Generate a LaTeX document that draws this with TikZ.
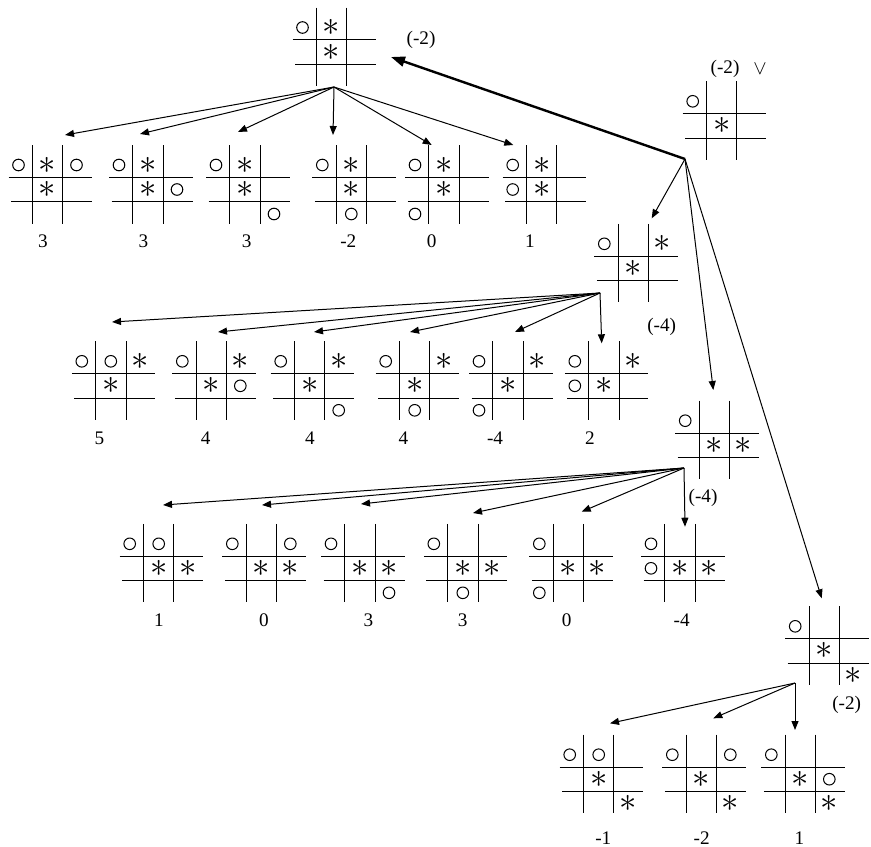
\documentclass[tikz,border=0pt]{standalone}
\usepackage{fontspec}
\setmainfont{Liberation Serif}
\usetikzlibrary{arrows.meta}

\begin{document}
\begin{tikzpicture}[x=0.5pt, y=-0.5pt, font={\fontsize{9.6}{11}\selectfont},
  ocell/.style={circle, draw, line width=0.5pt, minimum size=5.8pt, inner sep=0pt, node contents={}},
  scell/.style={inner sep=0pt, font=\LARGE, node contents={$\ast$}},
  arr/.style={-{Triangle[length=4.5pt, width=3.5pt]}, line width=0.5pt},
  board/.pic={
    \draw[line width=0.5pt] (-15.2,-44.5) -- (-15.2,34) (15.2,-44.5) -- (15.2,34)
      (-39,-12.2) -- (44.5,-12.2) (-36.5,12.2) -- (44.5,12.2);
    \foreach \t/\r/\c in {#1}
      \node (-\r\c) at ({(\c-2)*29},{(\r-2)*24.5}) [\t cell];
  }]
\useasboundingbox (0,0) rectangle (871,846);

% position being valued, and the move chosen (v)
\pic (root) at (331.5,52) {board={o/1/1,s/1/2,s/2/2}};
\pic (alt) at (721.7,125.8) {board={o/1/1,s/2/2}};
\node (root-note) at (421,40) {(-2)};
\node (alt-note) at (725,69) {(-2)};
\node (alt-or) at (760,69) {$\vee$};

% replies to the first move
\pic (b1) at (47.5,189.5) {board={o/1/1,s/1/2,o/1/3,s/2/2}};
\pic (b2) at (148,189.5) {board={o/1/1,s/1/2,s/2/2,o/2/3}};
\pic (b3) at (245,189.5) {board={o/1/1,s/1/2,s/2/2,o/3/3}};
\pic (b4) at (351.3,189.5) {board={o/1/1,s/1/2,s/2/2,o/3/2}};
\pic (b5) at (444,189.5) {board={o/1/1,s/1/2,s/2/2,o/3/1}};
\pic (b6) at (541.7,189.5) {board={o/1/1,s/1/2,o/2/1,s/2/2}};
\foreach \n/\x/\v in {b1/43/3, b2/143.3/3, b3/246.7/3, b4/348.3/-2, b5/431.7/0, b6/530/1}
  \node (\n-val) at (\x,241.5) {\v};

% second move
\pic (c) at (633.3,268.3) {board={o/1/1,s/1/3,s/2/2}};
\node (c-note) at (661.7,326.7) {(-4)};
\pic (d1) at (110.8,385.8) {board={o/1/1,o/1/2,s/1/3,s/2/2}};
\pic (d2) at (211.3,385.8) {board={o/1/1,s/1/3,s/2/2,o/2/3}};
\pic (d3) at (309.7,385.8) {board={o/1/1,s/1/3,s/2/2,o/3/3}};
\pic (d4) at (414.7,385.8) {board={o/1/1,s/1/3,s/2/2,o/3/2}};
\pic (d5) at (508,385.8) {board={o/1/1,s/1/3,s/2/2,o/3/1}};
\pic (d6) at (603.8,385.8) {board={o/1/1,s/1/3,o/2/1,s/2/2}};
\foreach \n/\x/\v in {d1/99.3/5, d2/205.7/4, d3/310/4, d4/403.3/4, d5/495/-4, d6/590/2}
  \node (\n-val) at (\x,438.5) {\v};

% third move
\pic (e) at (714.2,445.2) {board={o/1/1,s/2/2,s/2/3}};
\node (e-note) at (703,498) {(-4)};
\pic (f1) at (158.7,568.3) {board={o/1/1,o/1/2,s/2/2,s/2/3}};
\pic (f2) at (261.3,568.3) {board={o/1/1,o/1/3,s/2/2,s/2/3}};
\pic (f3) at (360,568.3) {board={o/1/1,s/2/2,s/2/3,o/3/3}};
\pic (f4) at (462.8,568.3) {board={o/1/1,s/2/2,s/2/3,o/3/2}};
\pic (f5) at (568.3,568.3) {board={o/1/1,s/2/2,s/2/3,o/3/1}};
\pic (f6) at (680,568.3) {board={o/1/1,o/2/1,s/2/2,s/2/3}};
\foreach \n/\x/\v in {f1/159/1, f2/264/0, f3/368.3/3, f4/462.7/3, f5/566.7/0, f6/681.7/-4}
  \node (\n-val) at (\x,620) {\v};

% fourth move
\pic (g) at (824.2,650.8) {board={o/1/1,s/2/2,s/3/3}};
\node (g-note) at (846.7,705) {(-2)};
\pic (h1) at (598.7,779.2) {board={o/1/1,o/1/2,s/2/2,s/3/3}};
\pic (h2) at (701.3,779.2) {board={o/1/1,o/1/3,s/2/2,s/3/3}};
\pic (h3) at (800.3,779.2) {board={o/1/1,s/2/2,o/2/3,s/3/3}};
\foreach \n/\x/\v in {h1/603.3/-1, h2/701.7/-2, h3/799.3/1}
  \node (\n-val) at (\x,838) {\v};

% arrows
\coordinate (root-out) at (334,87);
\coordinate (alt-out) at (685,159);
\coordinate (c-out) at (600,293);
\coordinate (e-out) at (684,468);
\coordinate (g-out) at (795,683);
\coordinate (root-in) at (391,57);
\draw[-{Triangle[length=7pt, width=5pt]}, line width=1.2pt] (alt-out) -- (root-in);
\foreach \n/\p in {c/{651.7,218.3}, e/{713.3,390}, g/{821.7,598.3}}
  { \coordinate (\n-in) at (\p); \draw[arr] (alt-out) -- (\n-in); }
\foreach \n/\p in {b1/{65,135}, b2/{140,134}, b3/{238,132}, b4/{333,135}, b5/{431.7,145}, b6/{513.3,145}}
  { \coordinate (\n-in) at (\p); \draw[arr] (root-out) -- (\n-in); }
\foreach \n/\p in {d1/{112,322}, d2/{218,332}, d3/{314,332}, d4/{410,332}, d5/{515,332}, d6/{601.7,343.3}}
  { \coordinate (\n-in) at (\p); \draw[arr] (c-out) -- (\n-in); }
\foreach \n/\p in {f1/{163,505}, f2/{262,505}, f3/{361,504}, f4/{473,513}, f5/{581.7,511.7}, f6/{685,526.7}}
  { \coordinate (\n-in) at (\p); \draw[arr] (e-out) -- (\n-in); }
\foreach \n/\p in {h1/{610,723.3}, h2/{713.3,718.3}, h3/{795,730}}
  { \coordinate (\n-in) at (\p); \draw[arr] (g-out) -- (\n-in); }
\end{tikzpicture}
\end{document}
